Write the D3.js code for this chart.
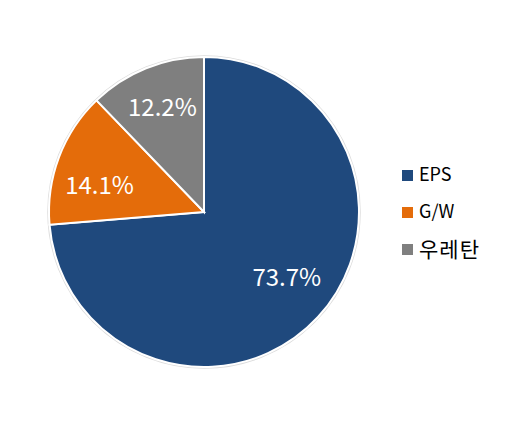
<!DOCTYPE html>
<html>
<head>
<meta charset="utf-8">
<script src="https://cdn.jsdelivr.net/npm/d3@7"></script>
<style>
  body { margin: 0; background: #fff; }
  svg { display: block; font-family: "Noto Sans CJK KR", "Noto Sans", sans-serif; }
</style>
</head>
<body>
<svg id="chart" width="526" height="424"></svg>
<script>
const categories = ["EPS", "G/W", "우레탄"];
const shares = [73.7, 14.1, 12.2];
const colors = ["#1F497D", "#E46C0A", "#7F7F7F"];

const svg = d3.select("#chart");
const cx = 204, cy = 212, radius = 155;

// small label nudges (Excel "best fit" does not sit exactly on the centroid)
const labelNudge = [[3, -8], [-3, 12], [-1, -4]];

const pie = d3.pie().sort(null).value(d => d);
const arcs = pie(shares);

const arc = d3.arc().innerRadius(0).outerRadius(radius);
const labelArc = d3.arc().innerRadius(radius * 0.7).outerRadius(radius * 0.7);

const g = svg.append("g").attr("transform", `translate(${cx},${cy})`);

// faint halo round the pie
g.append("circle")
  .attr("r", radius + 1)
  .attr("fill", "none")
  .attr("stroke", "#dcdcdc")
  .attr("stroke-width", 1.5);

g.selectAll("path.slice")
  .data(arcs)
  .enter().append("path")
    .attr("class", "slice")
    .attr("d", arc)
    .attr("fill", (d, i) => colors[i])
    .attr("stroke", "#fff")
    .attr("stroke-width", 2);

g.selectAll("text.label")
  .data(arcs)
  .enter().append("text")
    .attr("class", "label")
    .attr("transform", (d, i) => {
      const [x, y] = labelArc.centroid(d);
      return `translate(${x + labelNudge[i][0]},${y + labelNudge[i][1]})`;
    })
    .attr("text-anchor", "middle")
    .attr("dy", "0.36em")
    .attr("fill", "#fff")
    .attr("font-size", "24px")
    .text(d => d.data.toFixed(1) + "%");

// Legend
const legendY = d3.scalePoint().domain(categories).range([175, 249]);
const legend = svg.append("g").selectAll("g")
  .data(categories)
  .enter().append("g")
    .attr("transform", d => `translate(402,${legendY(d)})`);

legend.append("rect")
  .attr("x", 0).attr("y", -5)
  .attr("width", 11).attr("height", 11)
  .attr("fill", (d, i) => colors[i]);

const isKorean = d => /[가-힣]/.test(d);
legend.append("text")
  .attr("x", 17)
  .attr("dy", "0.36em")
  .attr("font-size", d => isKorean(d) ? "21px" : "18px")
  .attr("fill", "#000")
  .attr("letter-spacing", d => isKorean(d) ? "1px" : null)
  .text(d => d);
</script>
</body>
</html>
